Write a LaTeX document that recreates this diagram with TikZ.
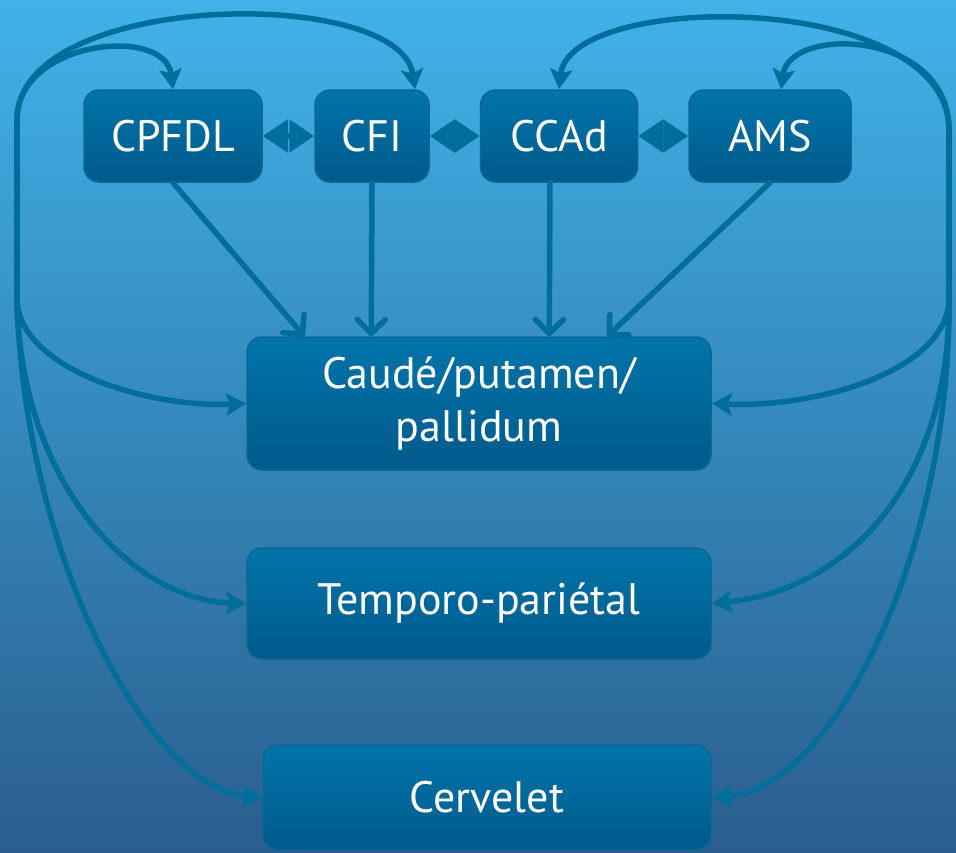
\documentclass[tikz,border=0pt]{standalone}
\usepackage{fontspec}
\setmainfont{PT Sans}
\usetikzlibrary{arrows.meta,shadings}
\definecolor{bgtop}{RGB}{64,178,232}
\definecolor{bgbot}{RGB}{42,94,142}
\definecolor{boxtop}{RGB}{0,116,170}
\definecolor{boxbot}{RGB}{0,90,138}
\definecolor{boxline}{RGB}{10,104,150}
\definecolor{wire}{RGB}{0,110,155}
\tikzset{
  region/.style={draw=boxline, line width=1.5pt, rounded corners=15pt,
    top color=boxtop, bottom color=boxbot, text=white, align=center,
    font=\fontsize{44}{53}\selectfont, inner sep=0pt},
  link/.style={draw=wire, line width=5.5pt},
  fed/.style={link, -{Stealth[length=20pt,width=22pt,inset=4pt]}},
  down/.style={link, line cap=round, -{Straight Barb[length=14pt,width=28pt,round]}},
  pair/.style={link, {Triangle[length=25pt,width=32pt]}-{Triangle[length=25pt,width=32pt]}}
}
\begin{document}
\begin{tikzpicture}[x=1pt,y=-1pt]
      \useasboundingbox (0,0) rectangle (956,852);
      \clip (0,0) rectangle (956,852);
      \shade[top color=bgtop, bottom color=bgbot] (0,0) rectangle (956,852);
      % top row of cortical areas
      \def \Areas{
        cpfdl/173/178/CPFDL,
        cfi/372/114/CFI,
        ccad/559/157/CCAd,
        ams/770/162/AMS}
      \foreach \id / \x / \w / \txt in \Areas{
        \node[region, minimum width=\w pt, minimum height=92pt] (\id) at (\x, 136) {\txt};
      }
      % targets
      \node[region, minimum width=464pt, minimum height=133pt] (caude) at (479, 403.5)
        {Caudé/putamen/\\pallidum};
      \node[region, minimum width=464pt, minimum height=111pt] (tempo) at (479, 603.5)
        {Temporo-pariétal};
      \node[region, minimum width=448pt, minimum height=105pt] (cerv) at (487, 797.5)
        {Cervelet};
      % links between neighbours
      \def \Pairs{
        cpfdl/cfi,
        cfi/ccad,
        ccad/ams}
      \foreach \a / \b in \Pairs{
        \path[pair] (\a.east) -- (\b.west);
      }
      % projections down to the striatum
      \path[down] (cpfdl.south) -- ([xshift=58pt]caude.north west);
      \path[down] (cfi.south) -- ([xshift=125pt]caude.north west);
      \path[down] ([xshift=-9pt]ccad.south) -- ([xshift=303pt]caude.north west);
      \path[down] (ams.south) -- ([xshift=361pt]caude.north west);
      % left loop
      \coordinate (lhub) at (17, 300);
      \coordinate (ltop) at (17, 120);
      \path[link] (lhub) -- (ltop);
      \path[fed] (ltop) .. controls (17, 40) and (165, 25) .. (cpfdl.north);
      \path[fed] (ltop) .. controls (17, -10) and (400, -15) .. ([xshift=43pt]cfi.north);
      \path[fed] (lhub) .. controls (20, 370) and (150, 408) .. (caude.west);
      \path[fed] (lhub) .. controls (20, 480) and (130, 600) .. (tempo.west);
      \path[fed] (lhub) .. controls (25, 560) and (150, 790) .. (cerv.west);
      % right loop
      \coordinate (rhub) at (949, 300);
      \coordinate (rtop) at (949, 130);
      \path[link] (rhub) -- (rtop);
      \path[fed] (rtop) .. controls (949, -10) and (570, -10) .. (ccad.north);
      \path[fed] (rtop) .. controls (949, 30) and (790, 25) .. ([xshift=11pt]ams.north);
      \path[fed] (rhub) .. controls (946, 370) and (820, 408) .. (caude.east);
      \path[fed] (rhub) .. controls (950, 480) and (850, 590) .. (tempo.east);
      \path[fed] (rhub) .. controls (950, 560) and (830, 790) .. (cerv.east);
\end{tikzpicture}
\end{document}
